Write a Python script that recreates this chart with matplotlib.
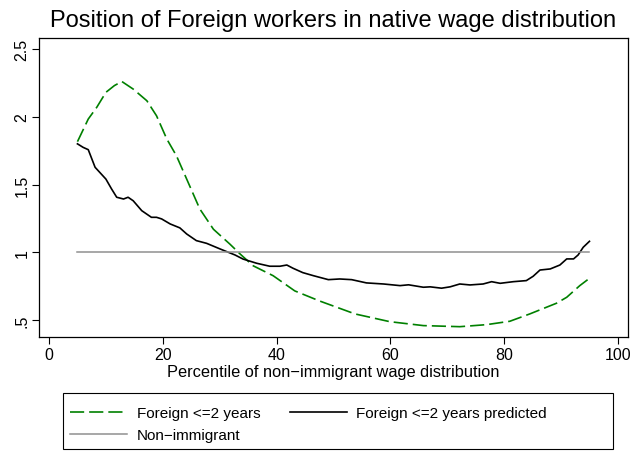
import matplotlib.pyplot as plt
from matplotlib.patches import Rectangle
from matplotlib.ticker import FixedLocator

plt.rcParams['font.family'] = ['Liberation Sans', 'DejaVu Sans']

# percentile points and ratios
fx = [5.0, 6.9, 8.4, 10.0, 11.5, 12.8, 14.8, 17.2, 18.9, 20.7, 22.4, 24.2, 26.5, 28.9,
      31.8, 33.6, 35.9, 39.4, 43.2, 47.6, 53.8, 59.9, 65.8, 72.2, 76.9, 81.0, 84.5,
      89.2, 91.0, 93.3, 95.0]
fy = [1.816, 1.983, 2.07, 2.18, 2.23, 2.26, 2.204, 2.118, 2.007, 1.836, 1.712, 1.54,
      1.32, 1.17, 1.06, 0.987, 0.90, 0.827, 0.715, 0.64, 0.545, 0.488, 0.459, 0.451,
      0.466, 0.491, 0.545, 0.624, 0.668, 0.754, 0.808]

px = [5.0, 6.0, 6.9, 8.1, 10.0, 11.0, 11.9, 13.1, 13.9, 14.8, 16.3, 18.0, 18.9, 19.8,
      21.3, 23.0, 24.2, 25.9, 27.7, 30.1, 32.7, 34.1, 36.5, 38.8, 40.6, 41.8, 42.9,
      44.6, 46.5, 49.1, 51.1, 53.2, 55.8, 58.8, 61.7, 63.2, 65.8, 67.0, 69.0, 70.5,
      72.2, 74.0, 76.3, 77.8, 79.3, 81.6, 83.9, 85.1, 86.3, 88.1, 89.8, 91.0, 92.2,
      93.0, 93.9, 95.0]
py = [1.80, 1.774, 1.757, 1.627, 1.54, 1.467, 1.406, 1.393, 1.406, 1.38, 1.307, 1.258,
      1.258, 1.246, 1.209, 1.18, 1.135, 1.086, 1.066, 1.024, 0.98, 0.95, 0.919, 0.897,
      0.897, 0.906, 0.882, 0.85, 0.827, 0.798, 0.803, 0.798, 0.774, 0.766, 0.754, 0.76,
      0.742, 0.745, 0.735, 0.745, 0.766, 0.759, 0.766, 0.783, 0.771, 0.783, 0.791,
      0.823, 0.869, 0.877, 0.906, 0.951, 0.951, 0.98, 1.037, 1.081]

nx = [5, 95]
ny = [1, 1]

xticks = [0, 20, 40, 60, 80, 100]
yticks = [0.5, 1, 1.5, 2, 2.5]
ylabels = ['.5', '1', '1.5', '2', '2.5']

fig = plt.figure(figsize=(6.33, 4.56), dpi=100)
ax = fig.add_axes([0.0616, 0.2588, 0.9304, 0.6557])

g, = ax.plot(fx, fy, color='#008000', lw=1.2, dashes=(8.5, 3))
b, = ax.plot(px, py, color='black', lw=1.2)
n, = ax.plot(nx, ny, color='#909090', lw=1.1)

ax.set_xlim(-1.76, 101.76)
ax.set_ylim(0.375, 2.581)
ax.xaxis.set_major_locator(FixedLocator(xticks))
ax.set_yticks(yticks)
ax.set_yticklabels(ylabels, rotation=90, va='center')
ax.tick_params(labelsize=11.5, length=5, width=0.8)
ax.tick_params(axis='x', pad=2)
ax.tick_params(axis='y', pad=2)
for s in ax.spines.values():
    s.set_linewidth(0.9)

ax.set_xlabel('Percentile of non\u2212immigrant wage distribution', fontsize=11.8, labelpad=1.5)
ax.set_title('Position of Foreign workers in native wage distribution', fontsize=17, pad=8.5)

# legend box drawn separately so its width matches the reference
fig.patches.append(Rectangle((63 / 633, 6 / 456), 550 / 633, 56 / 456,
                             transform=fig.transFigure, fill=False,
                             edgecolor='black', lw=0.8))
fig.legend([g, n, b], ['Foreign <=2 years', 'Non\u2212immigrant', 'Foreign <=2 years predicted'],
           ncol=2, loc='upper left', bbox_to_anchor=(70 / 633, 49 / 456),
           fontsize=11, handlelength=3.73, frameon=False, borderpad=0,
           labelspacing=0.55, handletextpad=0.65, columnspacing=1.9, borderaxespad=0)

fig.savefig('out.png', dpi=100)
